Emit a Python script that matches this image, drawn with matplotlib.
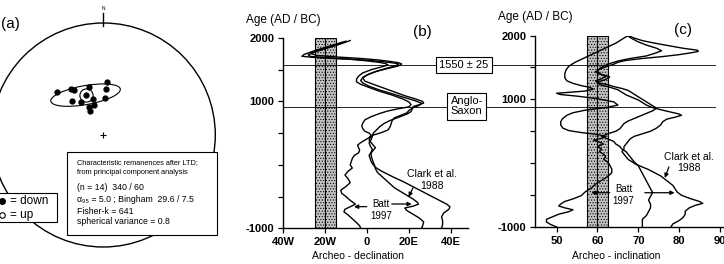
import numpy as np
import matplotlib
matplotlib.use("Agg")
import matplotlib.pyplot as plt
from matplotlib.lines import Line2D
from matplotlib.patches import Circle, Ellipse, Rectangle
from matplotlib.transforms import blended_transform_factory

plt.rcParams["font.family"] = ["Liberation Sans", "DejaVu Sans"]
plt.rcParams["hatch.linewidth"] = 0.5

W, H = 724, 264

# (a) characteristic remanence directions, equal-area lower hemisphere
site_dec = [313, 325, 327, 344, 4, 3, 317, 326, 344, 2, 333, 343, 330]
site_inc = [43, 48, 50, 53, 51, 56, 56, 61, 63, 63, 67, 67, 70]
plot_mean_dec, plot_mean_inc = 336, 58

# site mean used for the shaded bands in (b) and (c)
site_mean_dec, site_mean_inc = -20, 60
dec_err, inc_err = 5, 2.5

# (b) archeo-declination curves (negative = W)
b_lo_age = [1950, 1880, 1800, 1740, 1712, 1695, 1680, 1665, 1640, 1615,
            1595, 1575, 1545, 1500, 1450, 1400, 1350, 1310, 1270, 1220,
            1160, 1100, 1040, 990, 950, 915, 885, 850, 810, 760,
            710, 660, 610, 570, 530, 500, 470, 430, 390, 350,
            310, 270, 230, 190, 150, 100, 50, 0, -50, -100,
            -160, -220, -280, -340, -400, -450, -500, -560, -620, -660,
            -700, -740, -790, -850, -910, -960, -1000]
b_lo_dec = [-10, -17, -25, -30, -31, -26, -18, -8, 0, 6,
            9, 10, 7, 2, -2, -4, -5, -5, -3, 1,
            6, 12, 17, 20, 21, 20, 15, 10, 6, 2,
            -1, -2, -2.5, -2, -1, 1, 2, 1, -1, -3,
            -4.5, -4, -3.5, -4, -6, -7, -7.5, -8, -7, -9,
            -10.5, -9, -8, -10, -12.5, -12, -10, -8, -5.5, -8,
            -10.5, -11, -9, -7, -5, -3.5, -3]

b_hi_age = [1930, 1860, 1790, 1735, 1710, 1690, 1670, 1650, 1625, 1605,
            1590, 1565, 1530, 1480, 1430, 1380, 1330, 1290, 1240, 1180,
            1120, 1060, 1010, 970, 940, 900, 860, 820, 780, 740,
            700, 650, 600, 550, 510, 470, 430, 390, 350, 310,
            270, 230, 190, 140, 90, 40, 0, -60, -120, -180,
            -240, -300, -360, -420, -480, -540, -590, -620, -650, -680,
            -720, -780, -840, -900, -960, -1000]
b_hi_dec = [-12, -18, -24, -28, -27, -20, -10, 0, 8, 13,
            15, 14, 10, 5, 1, -2, -3, -2, 1, 6,
            12, 18, 23, 26, 25, 22, 20, 19, 16, 13,
            12, 11.5, 11, 10, 7, 3, 1.5, 1, 2, 3,
            4, 3, 2, 2, 2.5, 3, 3.5, 4, 5, 7,
            9, 11, 13, 16, 19, 22, 24, 24.5, 22, 18,
            19, 22, 25, 27, 26.5, 26]

b_clark_age = [1960, 1890, 1820, 1760, 1725, 1700, 1680, 1655, 1630, 1610,
               1590, 1560, 1520, 1470, 1420, 1370, 1320, 1270, 1210, 1150,
               1090, 1040, 1000, 975, 950, 920, 880, 840, 800, 750,
               700, 650, 600, 550, 500, 450, 400, 350, 300, 250,
               200, 150, 100, 50, 0, -50, -100, -150, -200, -260,
               -320, -380, -440, -500, -560, -620, -660, -700, -760, -820,
               -880, -940, -1000]
b_clark_dec = [-8, -14, -21, -27, -24, -14, -4, 5, 11, 15,
               16.5, 15, 10, 4, 0, -2, -1, 3, 8, 13,
               18, 23, 26.5, 27, 25, 22, 21.5, 21, 19, 15,
               11, 8, 6, 4.5, 3, 2.5, 2, 1, 1.5, 2.5,
               2, 1, 1.5, 2, 3, 4.5, 7, 10, 13, 17,
               20.5, 24, 27.5, 31, 34.5, 38, 39.5, 39, 36.5, 35.5,
               36, 36, 35.5]

# (c) archeo-inclination curves
c_lo_age = [2000, 1940, 1880, 1820, 1760, 1700, 1640, 1580, 1520, 1460,
            1400, 1340, 1290, 1250, 1215, 1190, 1160, 1130, 1110, 1095,
            1075, 1050, 1010, 960, 910, 870, 830, 790, 750, 700,
            650, 600, 550, 510, 480, 450, 420, 390, 360, 330,
            300, 260, 220, 180, 140, 100, 60, 20, -30, -90,
            -150, -210, -270, -330, -390, -450, -510, -560, -600, -640,
            -670, -700, -730, -760, -800, -840, -880, -920, -960, -1000]
c_lo_inc = [67.5, 66, 64.5, 62.5, 60.5, 58.5, 56.5, 54.5, 53, 52.3,
            52, 52, 52.5, 54, 56, 58, 59, 57, 53, 50,
            51, 55, 60, 64, 65, 62, 57, 54, 52.5, 51.5,
            51, 51, 51.5, 53, 56, 60, 62, 61, 59, 60.5,
            61.5, 60, 61, 60.5, 61.5, 62, 61.5, 62.5, 63, 63.5,
            63.5, 62.5, 61, 59.5, 58.5, 57, 56, 54, 52, 51,
            50.5, 52, 54, 53, 50.5, 49, 47.5, 47.5, 48.5, 50]

c_hi_age = [1990, 1950, 1900, 1850, 1800, 1760, 1720, 1680, 1640, 1600,
            1560, 1520, 1480, 1440, 1400, 1360, 1320, 1290, 1260, 1230,
            1200, 1170, 1140, 1100, 1060, 1020, 980, 940, 900, 860,
            820, 780, 740, 700, 660, 620, 580, 540, 500, 460,
            420, 380, 340, 300, 260, 220, 180, 140, 100, 60,
            20, -40, -100, -160, -220, -280, -340, -400, -460, -520,
            -580, -640, -700, -760, -820, -880, -940, -1000]
c_hi_inc = [67.5, 68.5, 70, 72, 74.5, 75.7, 74, 72, 68, 65,
            63, 61.5, 60.5, 60, 60.5, 62, 61, 59.5, 60, 62.5,
            64, 66, 67.5, 68.5, 69.5, 70.5, 71.5, 72.5, 73.5, 74.5,
            73.5, 72, 70.5, 69, 67.5, 66.5, 66, 65.5, 64.5, 62.5,
            61, 62.5, 64, 64.5, 65.5, 66, 67, 67.5, 68, 68.5,
            69, 70, 70.5, 71, 71.5, 72, 72.5, 73, 73.5, 73,
            72.5, 73, 73, 72.5, 72, 71, 71, 71]

c_clark_age = [2000, 1960, 1920, 1880, 1840, 1800, 1770, 1750, 1730, 1700,
               1670, 1640, 1610, 1580, 1550, 1510, 1470, 1430, 1390, 1350,
               1310, 1270, 1230, 1190, 1150, 1110, 1070, 1030, 990, 950,
               910, 870, 830, 800, 770, 750, 720, 690, 650, 600,
               550, 500, 460, 420, 380, 340, 300, 260, 220, 180,
               140, 100, 60, 20, -20, -60, -100, -150, -200, -250,
               -300, -350, -400, -450, -500, -550, -600, -630, -660, -700,
               -750, -800, -850, -900, -950, -1000]
c_clark_inc = [67.5, 69, 71, 74, 77.5, 81, 84.5, 84.7, 83, 80,
               76, 71, 67, 65, 64, 62, 60.5, 59.5, 61, 63,
               62, 60, 60.5, 63, 65, 66, 67, 68.5, 70, 71,
               72, 73.5, 76, 78, 80, 80.6, 79, 77, 76, 75.5,
               74.5, 73, 71, 69, 68, 67.5, 67, 66.5, 66.5, 66,
               66.5, 67, 67.5, 68.5, 69.5, 71, 72.5, 74, 75.5, 76.5,
               77.5, 78.5, 79, 79.5, 80.5, 82.5, 85, 85.8, 84, 82.5,
               81.5, 81.5, 81, 80, 78.5, 78]

# reference horizons drawn across (b) and (c)
event_ages = [1575, 910]
event_labels = ["1550 \u00b1 25", "Anglo-\nSaxon"]

age_ticks = [-1000, -500, 0, 500, 1000, 1500, 2000]
age_labels = ["-1000", "", "", "", "1000", "", "2000"]
dec_ticks = [-40, -20, 0, 20, 40]
dec_labels = ["40W", "20W", "0", "20E", "40E"]
inc_ticks = [50, 60, 70, 80, 90]
inc_labels = ["50", "60", "70", "80", "90"]


def fx(x):
    return x / W


def fy(y):
    return 1 - y / H


def schmidt(dec, inc):
    d = np.radians(dec)
    r = np.sqrt(2) * np.sin((np.pi / 2 - np.radians(inc)) / 2)
    return r * np.sin(d), r * np.cos(d)


fig = plt.figure(figsize=(W / 100, H / 100), dpi=100)

# ---------------- (a) stereonet ----------------
ax_a = fig.add_axes([fx(-8.7), fy(247), 224 / W, 224 / H])
ax_a.set_xlim(-1, 1)
ax_a.set_ylim(-1, 1)
ax_a.axis("off")
ax_a.add_patch(Circle((0, 0), 1, fill=False, ec="black", lw=1.0, clip_on=False))
ax_a.plot([0, 0], [0.973, 1.089], color="black", lw=1.0, clip_on=False)
ax_a.text(0, 1.13, "N", fontsize=3.5, ha="center", va="center", clip_on=False)
ax_a.plot(0, 0, marker="+", ms=4, mew=0.8, color="black")
sx, sy = schmidt(site_dec, site_inc)
ax_a.plot(sx, sy, "o", ms=3.5, color="black", ls="none")
mx, my = schmidt(plot_mean_dec, plot_mean_inc)
ax_a.plot(mx, my, "o", ms=3.5, color="black")
ax_a.plot(mx, my, "o", ms=9.5, mfc="none", mec="black", mew=0.8)
ax_a.add_patch(Ellipse((mx, my), 0.63, 0.17, angle=10, fill=False, ec="black", lw=0.8))

fig.text(fx(10), fy(24), "(a)", fontsize=11, ha="center", va="center")

# info box
fig.add_artist(Rectangle((fx(66.7), fy(235)), 150 / W, 83 / H, transform=fig.transFigure,
                         fc="white", ec="black", lw=0.8))
info_small = ["Characteristic remanences after LTD;", "from principal component analysis"]
for txt, yy in zip(info_small, [163, 173]):
    fig.text(fx(77), fy(yy), txt, fontsize=5.3, ha="left", va="center")
info_big = ["(n = 14)  340 / 60", "\u03b1\u2089\u2085 = 5.0 ; Bingham  29.6 / 7.5",
            "Fisher-k = 641", "spherical variance = 0.8"]
for txt, yy in zip(info_big, [188, 200, 211, 221]):
    fig.text(fx(77), fy(yy), txt, fontsize=6.3, ha="left", va="center")

# down / up legend
fig.add_artist(Rectangle((fx(-5), fy(222)), 62 / W, 29 / H, transform=fig.transFigure,
                         fc="white", ec="black", lw=0.8))
fig.add_artist(Line2D([fx(1.5)], [fy(201)], marker="o", ms=4, color="black",
                      transform=fig.transFigure))
fig.add_artist(Line2D([fx(1.5)], [fy(215)], marker="o", ms=4, mfc="white", mec="black",
                      mew=0.8, transform=fig.transFigure))
fig.text(fx(10), fy(201), "= down", fontsize=8.5, ha="left", va="center")
fig.text(fx(10), fy(215), "= up", fontsize=8.5, ha="left", va="center")

# ---------------- (b) and (c) ----------------
ax_b = fig.add_axes([fx(283), fy(228.3), 184.8 / W, 190.3 / H])
ax_c = fig.add_axes([fx(535), fy(227), 189 / W, 191.5 / H])

for ax in (ax_b, ax_c):
    ax.patch.set_alpha(0)
    for s in ("top", "right"):
        ax.spines[s].set_visible(False)
    for s in ("left", "bottom"):
        ax.spines[s].set_linewidth(1.0)
    ax.set_ylim(-1000, 2000)
    ax.set_yticks(age_ticks)
    ax.set_yticklabels(age_labels)
    ax.tick_params(direction="out", length=3.8, width=0.9, labelsize=8, pad=2.5)
    for lab in ax.get_xticklabels() + ax.get_yticklabels():
        lab.set_fontweight("bold")
    ax.annotate("Age (AD / BC)", xy=(0, 1), xycoords="axes fraction", xytext=(0, 13),
                textcoords="offset points", ha="center", va="center", fontsize=8.5)

ax_b.set_xlim(-40, 48)
ax_b.set_xticks(dec_ticks)
ax_b.set_xticklabels(dec_labels, fontweight="bold")
ax_c.set_xlim(44.7, 91)
ax_c.set_xticks(inc_ticks)
ax_c.set_xticklabels(inc_labels, fontweight="bold")

# site-mean bands
ax_b.axvspan(site_mean_dec - dec_err, site_mean_dec + dec_err, fc="#c4c4c4", ec="black",
             lw=0.8, hatch="......", zorder=1)
ax_b.axvline(site_mean_dec, color="black", lw=0.8, zorder=1.5)
ax_c.axvspan(site_mean_inc - inc_err, site_mean_inc + inc_err, fc="#c4c4c4", ec="black",
             lw=0.8, hatch="......", zorder=1)
ax_c.axvline(site_mean_inc, color="black", lw=0.8, zorder=1.5)

for dec, age in [(b_lo_dec, b_lo_age), (b_hi_dec, b_hi_age), (b_clark_dec, b_clark_age)]:
    ax_b.plot(dec, age, color="black", lw=1.0, solid_joinstyle="round", zorder=2)
for inc, age in [(c_lo_inc, c_lo_age), (c_hi_inc, c_hi_age), (c_clark_inc, c_clark_age)]:
    ax_c.plot(inc, age, color="black", lw=1.0, solid_joinstyle="round", zorder=2)

# horizons spanning both panels
hz = blended_transform_factory(fig.transFigure, ax_b.transData)
for age in event_ages:
    fig.add_artist(Line2D([fx(283), fx(715)], [age, age], color="black", lw=0.6,
                          transform=hz, zorder=2))
fig.text(46.2, event_ages[0], event_labels[0], transform=ax_b.transData, fontsize=8,
         ha="center", va="center", zorder=3,
         bbox=dict(boxstyle="square,pad=0.3", fc="white", ec="black", lw=0.8))
fig.text(47.5, event_ages[1] + 15, event_labels[1], transform=ax_b.transData, fontsize=8,
         ha="center", va="center", multialignment="center", zorder=3, linespacing=1.05,
         bbox=dict(boxstyle="square,pad=0.3", fc="white", ec="black", lw=0.8))

# annotations
arrow = dict(arrowstyle="-|>", lw=0.9, color="black", mutation_scale=6, shrinkA=0, shrinkB=0)
ax_b.text(6.7, -711, "Batt\n1997", fontsize=7, ha="center", va="center", linespacing=1.2)
ax_b.annotate("", xy=(-6.2, -659), xytext=(-0.1, -659), arrowprops=arrow)
ax_b.annotate("", xy=(21.3, -617), xytext=(11.8, -617), arrowprops=arrow)
ax_b.text(31, -238, "Clark et al.\n1988", fontsize=7.5, ha="center", va="center",
          linespacing=1.2)
ax_b.annotate("", xy=(19.8, -506), xytext=(21.9, -364), arrowprops=arrow)

ax_c.text(66.4, -499, "Batt\n1997", fontsize=7, ha="center", va="center", linespacing=1.2)
ax_c.annotate("", xy=(58.5, -463), xytext=(63, -463), arrowprops=arrow)
ax_c.annotate("", xy=(78.9, -463), xytext=(71.6, -463), arrowprops=arrow)
ax_c.text(82.5, 10, "Clark et al.\n1988", fontsize=7.5, ha="center", va="center",
          linespacing=1.2)
ax_c.annotate("", xy=(76.5, -232), xytext=(77.5, -60), arrowprops=arrow)

ax_b.text((422 - 283) / 184.8, 1.0315, "(b)", transform=ax_b.transAxes, fontsize=11,
          ha="center", va="center")
ax_c.text((683 - 535) / 189, 1.029, "(c)", transform=ax_c.transAxes, fontsize=11,
          ha="center", va="center")

ax_b.text((358 - 283) / 184.8, (228.3 - 251) / 190.3, "Archeo - declination",
          transform=ax_b.transAxes, fontsize=7.5, ha="center", va="top")
ax_c.text((616 - 535) / 189, (227 - 251) / 191.5, "Archeo - inclination",
          transform=ax_c.transAxes, fontsize=7.5, ha="center", va="top")

fig.savefig("out.png", dpi=100)
